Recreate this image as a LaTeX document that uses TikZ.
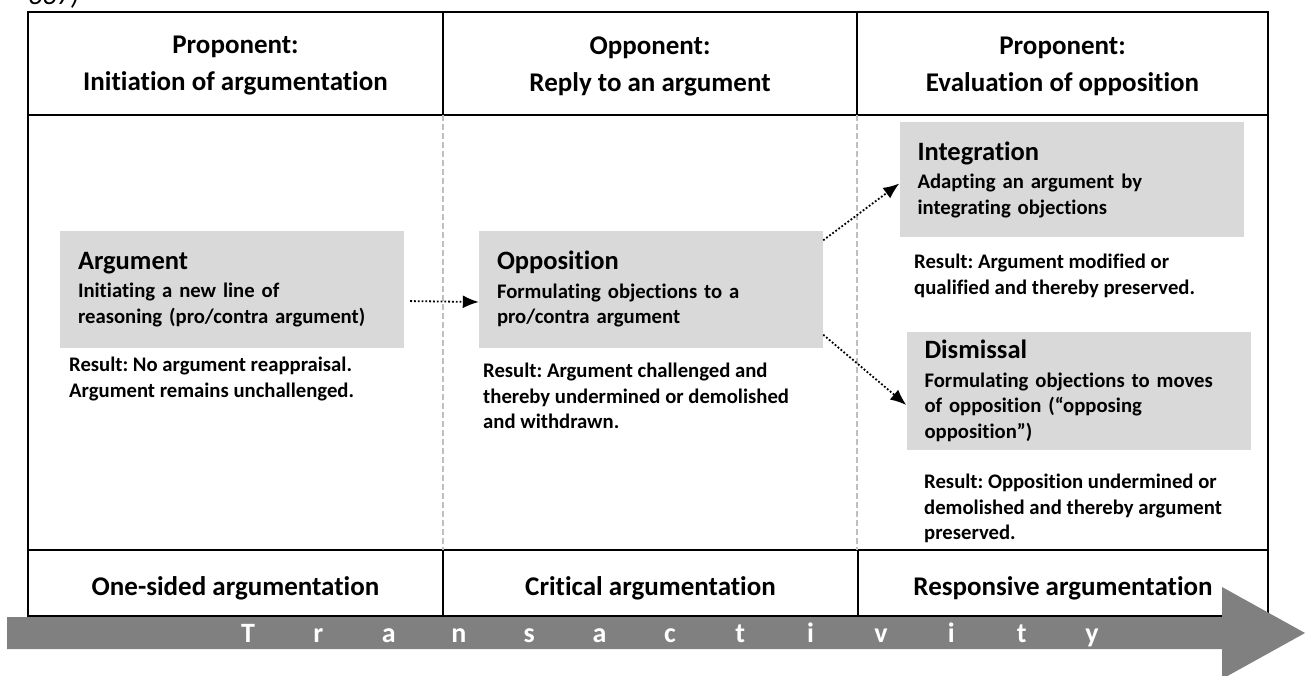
\documentclass[tikz,border=0pt]{standalone}
\usepackage{fontspec}
\setmainfont{Carlito}[Ligatures=NoCommon]
\frenchspacing
\usetikzlibrary{arrows.meta}
\definecolor{boxgray}{HTML}{D9D9D9}
\definecolor{arrowgray}{HTML}{808080}
\definecolor{rulegray}{HTML}{BFBFBF}
\newcommand{\movetitle}[1]{{\fontsize{26.5}{25.5}\selectfont #1}\\[3pt]}

\begin{document}
\begin{tikzpicture}[x=1pt, y=-1pt]
    % Define styles
    \tikzset{
        headtext/.style={align=center, font=\bfseries\fontsize{27}{37}\selectfont},
        foottext/.style={font=\bfseries\fontsize{27}{30}\selectfont},
        movebox/.style={fill=boxgray, minimum width=344pt, minimum height=117pt, text width=308pt, inner xsep=18pt, inner ysep=0pt, align=left, font=\bfseries\fontsize{20.7}{25.5}\selectfont},
        resulttext/.style={anchor=north west, inner sep=0pt, align=left, font=\bfseries\fontsize{20.7}{25.5}\selectfont},
        dotarrow/.style={dotted, line width=1.8pt, -{Latex[length=16pt,width=13pt]}},
        tableline/.style={line width=2.4pt},
        guideline/.style={rulegray, line width=1.5pt, dash pattern=on 6pt off 3pt},
        translet/.style={anchor=base, text=white, font=\bfseries\fontsize{28}{30}\selectfont}
    }
    \useasboundingbox (0,0) rectangle (1305,675);

    % Caption fragment cut at the top
    \node[anchor=base west, inner sep=0pt, font=\itshape\fontsize{28}{30}\selectfont] (capfrag) at (28,4) {337)};

    % Table frame
    \draw[tableline] (28,12) rectangle (1268,616);
    \draw[tableline] (28,115) -- (1268,115);
    \draw[tableline] (28,550) -- (1268,550);
    \draw[tableline] (443,12) -- (443,115);
    \draw[tableline] (857,12) -- (857,115);
    \draw[tableline] (443,550) -- (443,616);
    \draw[tableline] (858,550) -- (858,616);
    \draw[guideline] (443,115) -- (443,550);
    \draw[guideline] (857,115) -- (857,550);

    % Column heads
    \node[headtext] (hdprop) at (235.5,66) {Proponent:\\Initiation of argumentation};
    \node[headtext] (hdopp) at (650,66) {Opponent:\\Reply to an argument};
    \node[headtext] (hdeval) at (1062.5,66) {Proponent:\\Evaluation of opposition};

    % Moves
    \node[movebox] (arg) at (232,289.5) {\movetitle{Argument}Initiating a new line of\\reasoning (pro/contra argument)};
    \node[movebox] (opp) at (651,289) {\movetitle{Opposition}Formulating objections to a\\pro/contra argument};
    \node[movebox, minimum height=115pt] (integ) at (1071.5,179.5) {\movetitle{Integration}Adapting an argument by\\integrating objections};
    \node[movebox, minimum height=118pt] (dism) at (1078.5,391) {\movetitle{Dismissal}Formulating objections to moves\\of opposition (“opposing\\opposition”)};

    % Results
    \node[resulttext] (resarg) at (69,357) {Result: No argument reappraisal.\\Argument remains unchallenged.};
    \node[resulttext] (resopp) at (483,363) {Result: Argument challenged and\\thereby undermined or demolished\\and withdrawn.};
    \node[resulttext] (resinteg) at (914,254) {Result: Argument modified or\\qualified and thereby preserved.};
    \node[resulttext] (resdism) at (924,474) {Result: Opposition undermined or\\demolished and thereby argument\\preserved.};

    % Moves connected
    \draw[dotarrow, shorten <=6pt] ([yshift=-11.5pt]arg.east) -- ([yshift=-13pt]opp.west);
    \draw[dotarrow] ([yshift=-10pt]opp.north east) -- ([yshift=-4pt]integ.west);
    \draw[dotarrow] ([yshift=13pt]opp.south east) -- ([yshift=-14pt]dism.west);

    % Kinds of argumentation
    \node[foottext] (ftone) at (235.5,588) {One-sided argumentation};
    \node[foottext] (ftcrit) at (650.5,588) {Critical argumentation};
    \node[foottext] (ftresp) at (1063,588) {Responsive argumentation};

    % Transactivity arrow
    \fill[arrowgray] (7,617) -- (1222,617) -- (1222,587) -- (1305,633) -- (1222,679) -- (1222,649) -- (7,649) -- cycle;
    \foreach \ch [count=\i from 0] in {T,r,a,n,s,a,c,t,i,v,i,t,y}
        \node[translet] (tr\i) at (248+70.33*\i,642) {\ch};

\end{tikzpicture}
\end{document}
